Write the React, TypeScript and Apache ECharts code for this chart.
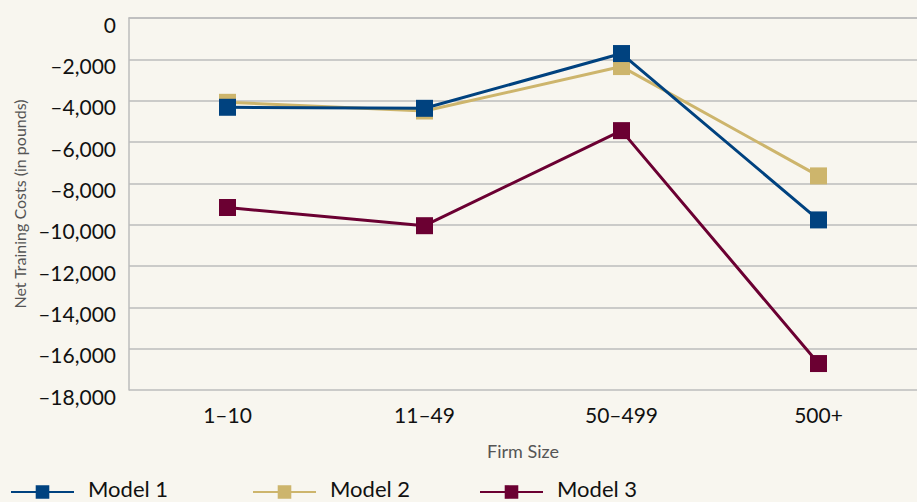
import React, { useEffect, useRef } from "react";
import * as echarts from "echarts";

const categories = ["1–10", "11–49", "50–499", "500+"];
const model1 = [-4320, -4370, -1720, -9770];
const model2 = [-4080, -4500, -2350, -7640];
const model3 = [-9170, -10050, -5450, -16720];
const seriesNames = ["Model 1", "Model 2", "Model 3"];
const colors = ["#00427f", "#cdb56c", "#6b0032"];
const legendLefts = [10, 252, 479];

function fmt(v: number): string {
  if (v === 0) return "0";
  const s = Math.abs(v).toLocaleString("en-US");
  return (v < 0 ? "–" : "") + s;
}

export default function App() {
  const ref = useRef<HTMLDivElement>(null);
  useEffect(() => {
    if (!ref.current) return;
    const chart = echarts.init(ref.current, undefined, { renderer: "svg" });
    const data = [model1, model2, model3];
    chart.setOption({
      animation: false,
      backgroundColor: "#f8f6ef",
      textStyle: { fontFamily: "Lato" },
      grid: { left: 129, right: 0, top: 18, bottom: 112 },
      legend: seriesNames.map((n, i) => ({
        left: legendLefts[i],
        top: 477,
        itemWidth: 63,
        itemHeight: 17,
        padding: 0,
        formatter: "{a|{name}}",
        textStyle: {
          fontFamily: "Lato",
          rich: { a: { fontSize: 22, color: "#111", fontFamily: "Lato", lineHeight: 22, padding: [0, 0, 8, 9] } },
        },
        data: [n],
      })),
      xAxis: {
        type: "category",
        data: categories,
        boundaryGap: true,
        name: "Firm Size",
        nameLocation: "middle",
        nameGap: 52,
        nameTextStyle: { fontSize: 18, color: "#555", fontFamily: "Lato" },
        axisLine: { lineStyle: { color: "#bdbdbd", width: 1.5 } },
        axisTick: { show: false },
        axisLabel: { fontSize: 21, color: "#111", margin: 14 },
      },
      yAxis: {
        type: "value",
        min: -18000,
        max: 0,
        interval: 2000,
        name: "Net Training Costs (in pounds)",
        nameLocation: "middle",
        nameGap: 100,
        nameTextStyle: { fontSize: 16, color: "#555", fontFamily: "Lato" },
        axisLine: { show: true, lineStyle: { color: "#bdbdbd", width: 1.5 } },
        axisTick: { show: false },
        splitLine: { lineStyle: { color: "#bdbdbd", width: 1.5 } },
        axisLabel: { fontSize: 21, color: "#111", margin: 13, verticalAlign: "top", lineHeight: 12, formatter: fmt },
      },
      series: data.map((d, i) => ({
        name: seriesNames[i],
        type: "line",
        data: d,
        symbol: "rect",
        symbolSize: 17,
        color: colors[i],
        lineStyle: { width: 3, color: colors[i] },
        itemStyle: { color: colors[i] },
        z: 10 - i,
      })),
    });
    return () => chart.dispose();
  }, []);
  return <div ref={ref} style={{ width: 917, height: 502, position: "absolute", left: 0, top: 0 }} />;
}
